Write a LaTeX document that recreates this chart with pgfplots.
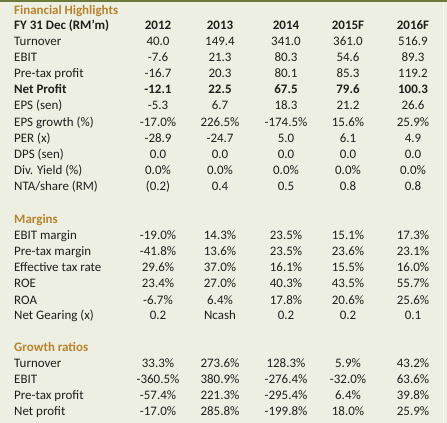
\documentclass[border=0pt]{standalone}
\usepackage{fontspec}
\setmainfont{Carlito}
\usepackage{pgfplots}
\usepackage{pgfplotstable}
\pgfplotsset{compat=1.18}
\definecolor{bg}{HTML}{EDEFE3}
\definecolor{olivetop}{HTML}{6E7A3C}
\definecolor{sect}{HTML}{B8822A}
\definecolor{txt}{HTML}{1E1E1E}
\newcommand{\tfont}{\fontsize{13}{15}\selectfont}

\pgfplotstableread[col sep=comma]{
y,label,a,b,c,d,e
41,Turnover,40.0,149.4,341.0,361.0,516.9
57,EBIT,-7.6,21.3,80.3,54.6,89.3
73,Pre-tax profit,-16.7,20.3,80.1,85.3,119.2
105,EPS (sen),-5.3,6.7,18.3,21.2,26.6
122,EPS growth (\%),-17.0\%,226.5\%,-174.5\%,15.6\%,25.9\%
138,PER (x),-28.9,-24.7,5.0,6.1,4.9
154,DPS (sen),0.0,0.0,0.0,0.0,0.0
170,Div. Yield (\%),0.0\%,0.0\%,0.0\%,0.0\%,0.0\%
186,NTA/share (RM),(0.2),0.4,0.5,0.8,0.8
235,EBIT margin,-19.0\%,14.3\%,23.5\%,15.1\%,17.3\%
251,Pre-tax margin,-41.8\%,13.6\%,23.5\%,23.6\%,23.1\%
267,Effective tax rate,29.6\%,37.0\%,16.1\%,15.5\%,16.0\%
283,ROE,23.4\%,27.0\%,40.3\%,43.5\%,55.7\%
300,ROA,-6.7\%,6.4\%,17.8\%,20.6\%,25.6\%
315,Net Gearing (x),0.2,Ncash,0.2,0.2,0.1
363,Turnover,33.3\%,273.6\%,128.3\%,5.9\%,43.2\%
379,EBIT,-360.5\%,380.9\%,-276.4\%,-32.0\%,63.6\%
395,Pre-tax profit,-57.4\%,221.3\%,-295.4\%,6.4\%,39.8\%
411,Net profit,-17.0\%,285.8\%,-199.8\%,18.0\%,25.9\%
}\plainrows

\pgfplotstableread[col sep=comma]{
y,label,a,b,c,d,e
25,FY 31 Dec (RM’m),2012,2013,2014,2015F,2016F
89,Net Profit,-12.1,22.5,67.5,79.6,100.3
}\boldrows

\pgfplotstableread[col sep=comma]{
y,label
10,Financial Highlights
219,Margins
347,Growth ratios
}\sections

\begin{document}
\begin{tikzpicture}
\begin{axis}[
  scale only axis, width=447bp, height=423bp,
  xmin=0, xmax=447, ymin=0, ymax=423, y dir=reverse,
  hide axis, clip=false,
  every node near coord/.append style={font=\tfont, text=txt, inner sep=0pt, anchor=base},
  txt/.style={draw=none, mark=none, nodes near coords, point meta=explicit symbolic},
  bold/.style={txt, every node near coord/.append style={font=\tfont\bfseries}},
]
\fill[bg] (axis cs:0,0) rectangle (axis cs:447,423);
\fill[olivetop] (axis cs:0,0) rectangle (axis cs:447,2.2);
\fill[white!60!bg] (axis cs:443,2.2) rectangle (axis cs:444.2,423);

% labels
\addplot[txt, every node near coord/.append style={anchor=base west}] table[x expr=14, y expr=\thisrow{y}+4.2, meta=label]{\plainrows};
\addplot[bold, every node near coord/.append style={anchor=base west}] table[x expr=14, y expr=\thisrow{y}+4.2, meta=label]{\boldrows};
\addplot[bold, every node near coord/.append style={anchor=base west, text=sect}] table[x expr=14, y expr=\thisrow{y}+4.2, meta=label]{\sections};

% values
\addplot[txt] table[x expr=158, y expr=\thisrow{y}+4.2, meta=a]{\plainrows};
\addplot[txt] table[x expr=220, y expr=\thisrow{y}+4.2, meta=b]{\plainrows};
\addplot[txt] table[x expr=286, y expr=\thisrow{y}+4.2, meta=c]{\plainrows};
\addplot[txt] table[x expr=348, y expr=\thisrow{y}+4.2, meta=d]{\plainrows};
\addplot[txt] table[x expr=413, y expr=\thisrow{y}+4.2, meta=e]{\plainrows};

\addplot[bold] table[x expr=158, y expr=\thisrow{y}+4.2, meta=a]{\boldrows};
\addplot[bold] table[x expr=220, y expr=\thisrow{y}+4.2, meta=b]{\boldrows};
\addplot[bold] table[x expr=286, y expr=\thisrow{y}+4.2, meta=c]{\boldrows};
\addplot[bold] table[x expr=348, y expr=\thisrow{y}+4.2, meta=d]{\boldrows};
\addplot[bold] table[x expr=413, y expr=\thisrow{y}+4.2, meta=e]{\boldrows};
\end{axis}
\end{tikzpicture}
\end{document}
